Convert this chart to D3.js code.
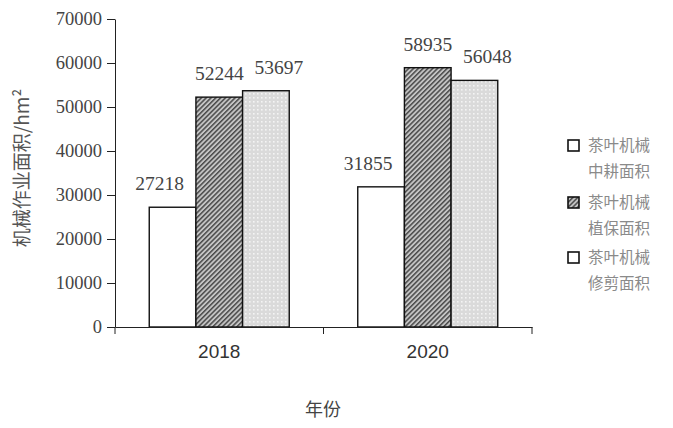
<!DOCTYPE html>
<html><head><meta charset="utf-8">
<script src="https://cdn.jsdelivr.net/npm/d3@7/dist/d3.min.js"></script>
<style>body{margin:0;background:#fff}</style>
</head><body>
<svg id="c" width="673" height="428"></svg>
<script>
const categories = ["2018", "2020"];
const seriesNames = ["茶叶机械中耕面积", "茶叶机械植保面积", "茶叶机械修剪面积"];
const legendLines = [["茶叶机械", "中耕面积"], ["茶叶机械", "植保面积"], ["茶叶机械", "修剪面积"]];
const tillage = [27218, 31855];
const protection = [52244, 58935];
const pruning = [53697, 56048];
const yTicks = [0, 10000, 20000, 30000, 40000, 50000, 60000, 70000];

const svg = d3.select("#c");
const defs = svg.append("defs");
const hatch = defs.append("pattern").attr("id","hatch").attr("patternUnits","userSpaceOnUse")
  .attr("width",3.4).attr("height",3.4).attr("patternTransform","rotate(45)");
hatch.append("rect").attr("width",3.4).attr("height",3.4).attr("fill","#c4c4c4");
hatch.append("rect").attr("width",1.5).attr("height",3.4).attr("fill","#4a4a4a");
const dots = defs.append("pattern").attr("id","dots").attr("patternUnits","userSpaceOnUse")
  .attr("width",4).attr("height",4);
dots.append("rect").attr("width",4).attr("height",4).attr("fill","#dadada");
dots.append("rect").attr("x",1).attr("y",1).attr("width",1.6).attr("height",1.6).attr("fill","#f4f4f4");

const fills = ["#fff", "url(#hatch)", "url(#dots)"];
const legendFills = ["#fff", "url(#hatch)", "#fff"];
const seriesVals = [tillage, protection, pruning];

const x0 = 115, x1 = 532, yTop = 19, yBot = 327;
const x = d3.scaleBand().domain(categories).range([x0, x1]).paddingInner(0).paddingOuter(0);
const y = d3.scaleLinear().domain([0, 70000]).range([yBot, yTop]);
const inner = d3.scaleBand().domain(d3.range(3)).range([0, 140]);
const groupOffset = (x.bandwidth() - 140) / 2;

// bars
categories.forEach((c, ci) => {
  seriesVals.forEach((vals, si) => {
    const bx = x(c) + groupOffset + inner(si);
    svg.append("rect").attr("x", bx).attr("y", y(vals[ci]))
      .attr("width", inner.bandwidth()).attr("height", yBot - y(vals[ci]))
      .attr("fill", fills[si]).attr("stroke", "#111").attr("stroke-width", 1.4);
    svg.append("text").attr("x", bx + inner.bandwidth()/2 + (si-1)*13).attr("y", y(vals[ci]) - 17)
      .attr("text-anchor","middle").attr("font-family","Liberation Serif, serif")
      .attr("font-size", 19.5).attr("fill","#444").text(vals[ci]);
  });
});

// y axis
const yAxis = d3.axisLeft(y).tickValues(yTicks).tickFormat(d3.format("d"))
  .tickSize(8).tickPadding(5).tickSizeOuter(0);
const gy = svg.append("g").attr("transform", `translate(${x0},0)`).call(yAxis);
gy.selectAll("text").attr("font-family","Liberation Serif, serif").attr("font-size",18.5).attr("fill","#444");
gy.select(".domain").attr("stroke","#222");
gy.selectAll(".tick line").attr("stroke","#222");

// x axis
const gx = svg.append("g").attr("transform", `translate(0,${yBot})`)
  .call(d3.axisBottom(x).tickSize(0).tickPadding(18).tickSizeOuter(0));
gx.select(".domain").attr("stroke","#222");
gx.selectAll("text").attr("font-family","Liberation Sans, sans-serif").attr("font-size",19).attr("fill","#333");
[x0, x0 + x.bandwidth(), x1].forEach(v => {
  svg.append("line").attr("x1", v).attr("x2", v).attr("y1", yBot).attr("y2", yBot + 7).attr("stroke","#222");
});

// axis titles
svg.append("text").attr("transform","translate(29,168) rotate(-90)").attr("text-anchor","middle")
  .attr("font-family","Noto Sans CJK SC, sans-serif").attr("font-size",19).attr("fill","#555")
  .text("机械作业面积/hm²");
svg.append("text").attr("x", 323).attr("y", 416).attr("text-anchor","middle")
  .attr("font-family","Noto Sans CJK SC, sans-serif").attr("font-size",18).attr("fill","#444")
  .text("年份");

// legend
const legY = [140, 197, 252];
legendLines.forEach((lines, i) => {
  svg.append("rect").attr("x", 568).attr("y", legY[i]).attr("width", 11).attr("height", 11)
    .attr("fill", legendFills[i]).attr("stroke","#111").attr("stroke-width",1.6);
  lines.forEach((t, j) => {
    svg.append("text").attr("x", 588).attr("y", legY[i] + 11 + j*26)
      .attr("font-family","Noto Sans CJK SC, sans-serif").attr("font-size",15.5).attr("fill","#8a8a8a")
      .text(t);
  });
});
</script>
</body></html>
